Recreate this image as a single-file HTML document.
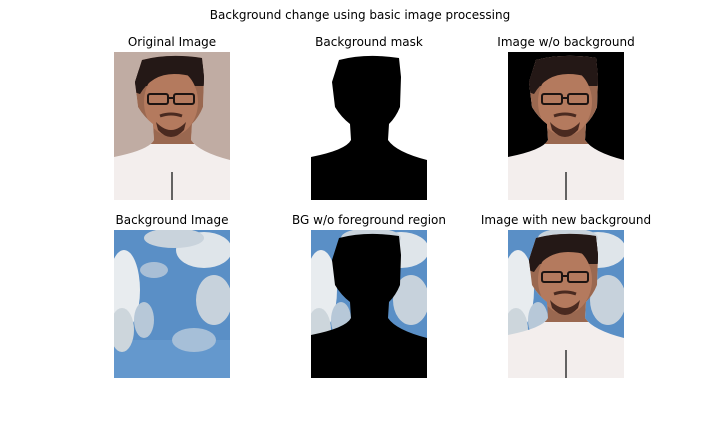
<!DOCTYPE html>
<html><head><style>
body{margin:0;background:#fff;width:720px;height:432px;overflow:hidden;font-family:"DejaVu Sans","Liberation Sans",sans-serif;}
svg{display:block}
text{font-family:"DejaVu Sans","Liberation Sans",sans-serif;font-size:12px;fill:#000}
</style></head><body>
<svg width="720" height="432" viewBox="0 0 720 432">
<defs>
<path id="sil" d="M28,8 Q55,1 88,6 L90,25 L89,55 Q85,65 78,72 L77,88 Q85,100 116,108 L116,148 L0,148 L0,105 Q35,98 40,88 L39,72 Q30,65 24,55 L21,30 Z"/>
<clipPath id="c"><rect width="116" height="148"/></clipPath>
<clipPath id="sc"><use href="#sil"/></clipPath>
<g id="person">
  <use href="#sil" fill="#f3eeed"/>
  <g clip-path="url(#sc)">
    <rect x="0" y="0" width="116" height="92" fill="#9a6850"/>
    <rect x="0" y="0" width="116" height="34" fill="#241816"/>
    <ellipse cx="57" cy="50" rx="27" ry="34" fill="#b47a5e"/>
    <path d="M20,40 Q20,8 45,6 Q70,2 92,14 L92,36 Q84,22 60,22 Q38,22 26,42 Z" fill="#241816"/>
  </g>
  <rect x="34" y="42" width="20" height="10" rx="2" fill="none" stroke="#1d1412" stroke-width="2"/>
  <rect x="60" y="42" width="20" height="10" rx="2" fill="none" stroke="#1d1412" stroke-width="2"/>
  <line x1="54" y1="46" x2="60" y2="46" stroke="#1d1412" stroke-width="2"/>
  <path d="M46,64 Q57,60 68,64" stroke="#4a2a20" stroke-width="3" fill="none"/>
  <path d="M42,70 Q57,86 72,70 L70,78 Q57,92 44,78 Z" fill="#4a2a20"/>
  <line x1="58" y1="120" x2="58" y2="148" stroke="#333" stroke-width="1.5"/>
</g>
<g id="sky">
  <rect width="116" height="148" fill="#5a8fc6"/>
  <rect y="110" width="116" height="38" fill="#6a9fd2" opacity="0.6"/>
  <ellipse cx="10" cy="60" rx="16" ry="40" fill="#e8ecef"/>
  <ellipse cx="8" cy="100" rx="12" ry="22" fill="#cdd6dc"/>
  <ellipse cx="90" cy="20" rx="28" ry="18" fill="#dfe5ea"/>
  <ellipse cx="60" cy="8" rx="30" ry="10" fill="#c9d3dc"/>
  <ellipse cx="100" cy="70" rx="18" ry="25" fill="#c7d2dc"/>
  <ellipse cx="40" cy="40" rx="14" ry="8" fill="#a9bfd6"/>
  <ellipse cx="80" cy="110" rx="22" ry="12" fill="#a6bfd8"/>
  <ellipse cx="30" cy="90" rx="10" ry="18" fill="#b7c8d8"/>
</g>
</defs>
<text x="360" y="19" text-anchor="middle">Background change using basic image processing</text>
<text x="172" y="46" text-anchor="middle">Original Image</text>
<text x="369" y="46" text-anchor="middle">Background mask</text>
<text x="566" y="46" text-anchor="middle">Image w/o background</text>
<text x="172" y="224" text-anchor="middle">Background Image</text>
<text x="369" y="224" text-anchor="middle">BG w/o foreground region</text>
<text x="566" y="224" text-anchor="middle">Image with new background</text>

<g transform="translate(114,52)" clip-path="url(#c)"><rect width="116" height="148" fill="#c0aca3"/><use href="#person"/></g>
<g transform="translate(311,52)" clip-path="url(#c)"><rect width="116" height="148" fill="#fff"/><use href="#sil" fill="#000"/></g>
<g transform="translate(508,52)" clip-path="url(#c)"><rect width="116" height="148" fill="#000"/><use href="#person"/></g>
<g transform="translate(114,230)" clip-path="url(#c)"><use href="#sky"/></g>
<g transform="translate(311,230)" clip-path="url(#c)"><use href="#sky"/><use href="#sil" fill="#000"/></g>
<g transform="translate(508,230)" clip-path="url(#c)"><use href="#sky"/><use href="#person"/></g>
</svg>
</body></html>
